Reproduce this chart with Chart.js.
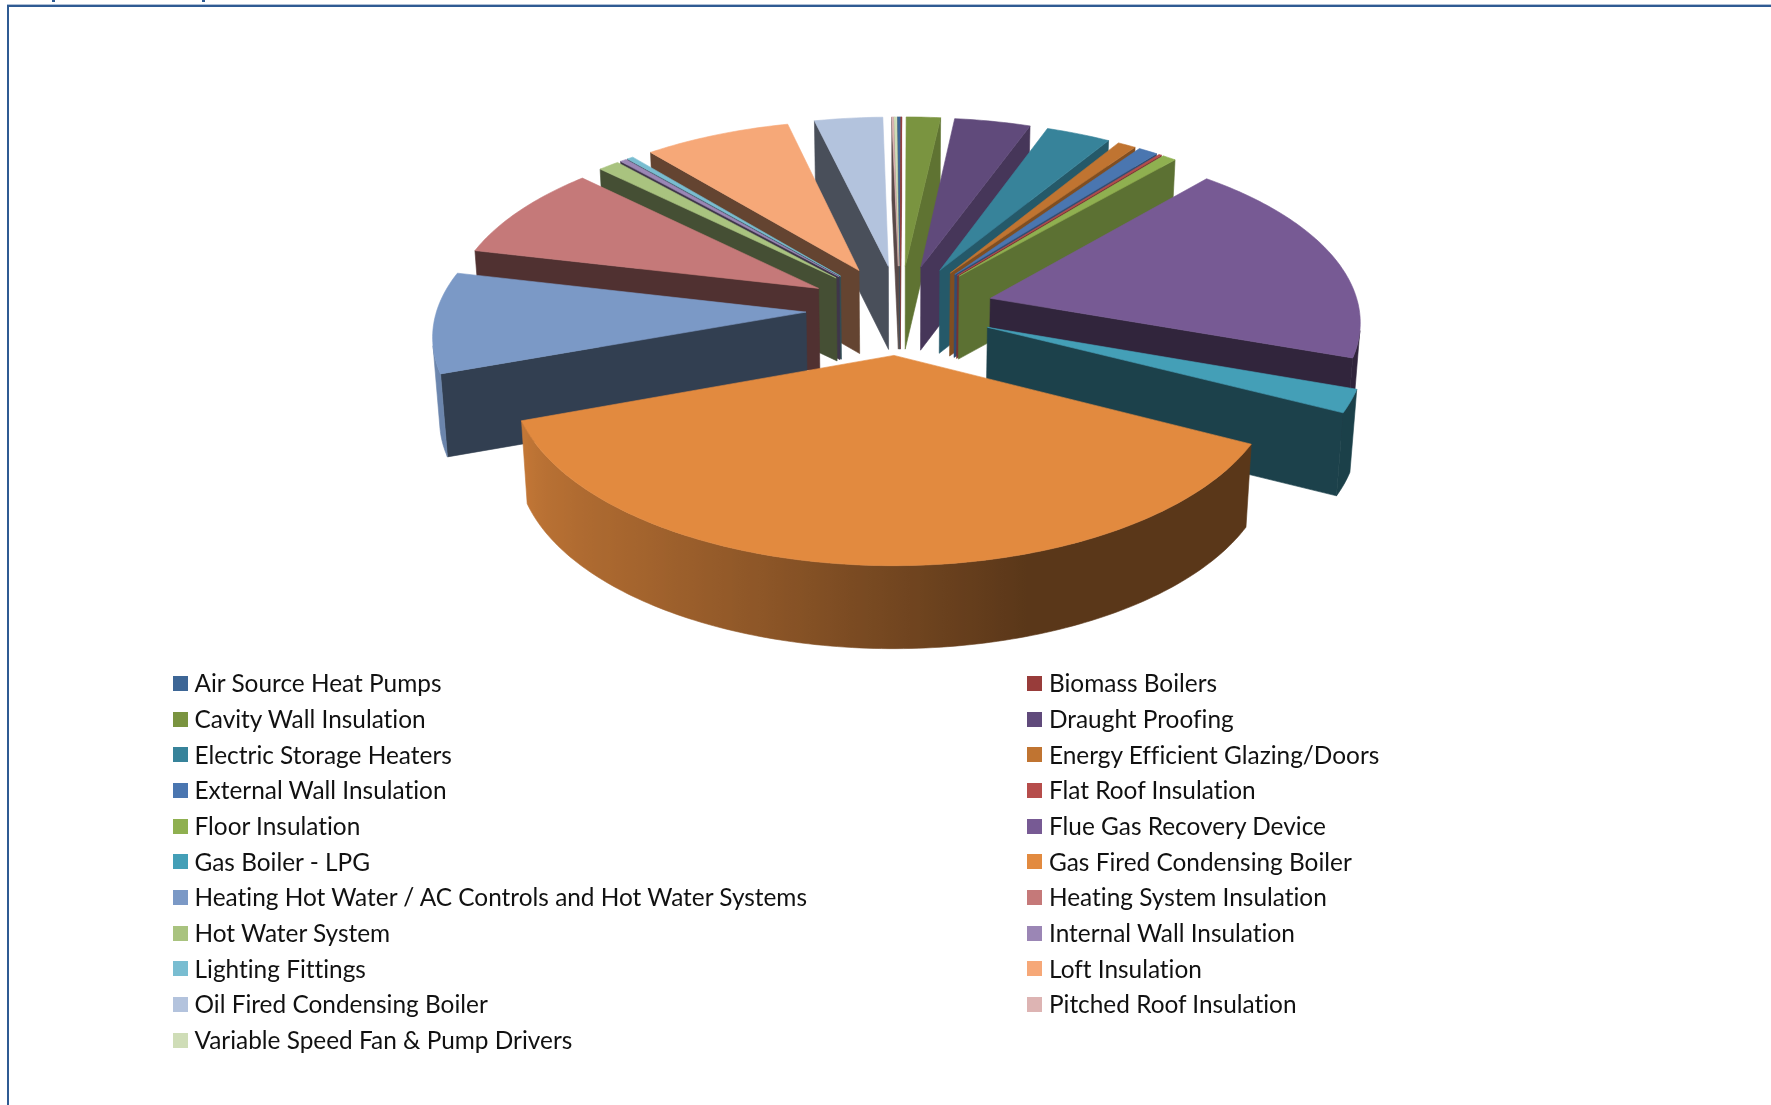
<!DOCTYPE html>
<html><head><meta charset="utf-8">
<style>
html,body{margin:0;padding:0;background:#fff;width:1771px;height:1105px;overflow:hidden}
#c{position:absolute;left:0;top:0}
#frameTop{position:absolute;left:7px;right:0;top:4.5px;height:2px;background:#2f5b93;box-shadow:0 -1px 0 #aebfd6}
#frameLeft{position:absolute;left:7px;top:5px;bottom:0;width:2px;background:#2f5b93}
.m{position:absolute;top:0;width:3px;height:2px;background:#2f5b93}
#legend div{position:absolute;font:24.4px Lato,sans-serif;font-variant-ligatures:none;color:#111;white-space:nowrap;line-height:30px;height:30px}
#legend i{position:absolute;left:-22px;top:7.5px;width:15px;height:15px}
</style></head><body>
<canvas id="c" width="1771" height="1105"></canvas>
<div id="frameTop"></div><div id="frameLeft"></div>
<div class="m" style="left:52px"></div><div class="m" style="left:202px"></div>
<div id="legend"></div>
<script src="https://cdn.jsdelivr.net/npm/chart.js@4"></script>
<script>
const categories = ["Air Source Heat Pumps","Biomass Boilers","Cavity Wall Insulation","Draught Proofing","Electric Storage Heaters","Energy Efficient Glazing/Doors","External Wall Insulation","Flat Roof Insulation","Floor Insulation","Flue Gas Recovery Device","Gas Boiler - LPG","Gas Fired Condensing Boiler","Heating Hot Water / AC Controls and Hot Water Systems","Heating System Insulation","Hot Water System","Internal Wall Insulation","Lighting Fittings","Loft Insulation","Oil Fired Condensing Boiler","Pitched Roof Insulation","Variable Speed Fan & Pump Drivers"];
const shareValues = [0.14,0.04,1.70,3.78,3.22,0.92,0.97,0.14,0.69,18.90,2.08,37.03,9.13,8.63,1.06,0.33,0.31,7.30,3.39,0.08,0.14];
const sliceColors = ["#3d6696","#983c3a","#7a9440","#604a7b","#37839a","#c07431","#4a76b0","#b64d4b","#8fb050","#775a94","#449fb7","#e28a3f","#7b99c6","#c57979","#a9c37f","#9b86b5","#79bdd1","#f6a878","#b3c3dd","#ddb4b3","#cfddb7"];

const view = {k:0.475, p:0.14, reach:457, depth:83, shrink:0.985};

function rgb(hex){return [1,3,5].map(i=>parseInt(hex.substr(i,2),16));}
function shade(hex,f){const c=rgb(hex);return `rgb(${c.map(v=>Math.round(v*f)).join(',')})`;}
function lerpTable(t,d){
  if(d<=t[0][0])return t[0][1];
  for(let i=1;i<t.length;i++){if(d<=t[i][0]){const a=t[i-1],b=t[i];return a[1]+(b[1]-a[1])*(d-a[0])/(b[0]-a[0]);}}
  return t[t.length-1][1];
}
const cutLight=[[90,0.8],[135,0.63],[160,0.41],[360,0.40]];
const rimLight=[[162,0.40],[180,0.51],[197,0.62],[216,0.72],[243,0.83],[250,0.87],[300,0.92]];

const perspectivePie={
  id:'perspectivePie',
  beforeDatasetDraw(chart,args){
    const ctx=chart.ctx,arcs=chart.getDatasetMeta(args.index).data;
    const cx=arcs[0].x,cy=arcs[0].y;
    const top=(x,y)=>{const dy=y-cy,s=1/(1-view.p*dy/view.reach);return [cx+(x-cx)*s,cy+view.k*dy*s];};
    const low=P=>[cx+(P[0]-cx)*view.shrink,P[1]+view.depth];
    const fill=(pts,col)=>{ctx.beginPath();pts.forEach((q,i)=>i?ctx.lineTo(q[0],q[1]):ctx.moveTo(q[0],q[1]));ctx.closePath();ctx.fillStyle=col;ctx.fill();ctx.strokeStyle=col;ctx.lineWidth=0.6;ctx.stroke();};
    const area=pts=>pts.reduce((s,q,i)=>{const n=pts[(i+1)%pts.length];return s+q[0]*n[1]-n[0]*q[1];},0);
    const dir=a=>((a*180/Math.PI+90)%360+360)%360;
    const items=arcs.map((el,i)=>{
      const mid=(el.startAngle+el.endAngle)/2,off=el.options.offset||0;
      const ox=cx+Math.cos(mid)*off,oy=cy+Math.sin(mid)*off;
      const r=el.outerRadius,n=Math.max(2,Math.ceil((el.endAngle-el.startAngle)*180/Math.PI));
      const rim=[];
      for(let j=0;j<=n;j++){const a=el.startAngle+(el.endAngle-el.startAngle)*j/n;rim.push({a,P:top(ox+r*Math.cos(a),oy+r*Math.sin(a))});}
      return {i,el,oy,apex:top(ox,oy),rim,color:sliceColors[i]};
    }).sort((a,b)=>a.oy-b.oy);
    for(const it of items){
      const {apex,rim,color,el}=it;
      const s0=rim[0].P,e0=rim[rim.length-1].P;
      const quad=(p,q)=>[p,q,low(q),low(p)];
      const startQ=quad(apex,s0),endQ=quad(e0,apex);
      if(area(startQ)<0)fill(startQ,shade(color,lerpTable(cutLight,(dir(el.startAngle)-90+360)%360)));
      if(area(endQ)<0)fill(endQ,shade(color,lerpTable(cutLight,(dir(el.endAngle)+90)%360)));
      // outer wall: one smooth band per visible run of the rim
      let run=[];
      const flush=()=>{
        if(run.length<2){run=[];return;}
        const x0=run[0].P[0],x1=run[run.length-1].P[0];
        const g=ctx.createLinearGradient(x0,0,x1===x0?x0+1:x1,0);
        run.forEach(o=>{g.addColorStop(Math.min(1,Math.max(0,(o.P[0]-x0)/((x1-x0)||1))),shade(color,lerpTable(rimLight,dir(o.a))));});
        const upper=run.map(o=>o.P),lower=run.map(o=>low(o.P)).reverse();
        ctx.beginPath();[...upper,...lower].forEach((q,i)=>i?ctx.lineTo(q[0],q[1]):ctx.moveTo(q[0],q[1]));ctx.closePath();
        ctx.fillStyle=g;ctx.fill();ctx.strokeStyle=g;ctx.lineWidth=0.6;ctx.stroke();
        run=[];
      };
      for(let j=0;j<rim.length-1;j++){
        const q=quad(rim[j].P,rim[j+1].P);
        if(area(q)<0){if(!run.length)run.push(rim[j]);run.push(rim[j+1]);}else flush();
      }
      flush();
      fill([apex,...rim.map(o=>o.P)],color);
    }
    return false;
  }
};

new Chart(document.getElementById('c'),{
  type:'pie',
  data:{labels:categories,datasets:[{data:shareValues,backgroundColor:sliceColors,borderWidth:0,offset:94}]},
  options:{
    responsive:false,animation:false,devicePixelRatio:1,radius:369,rotation:-0.4,
    layout:{padding:{left:29,bottom:486}},
    plugins:{legend:{display:false},tooltip:{enabled:false},title:{display:false}}
  },
  plugins:[perspectivePie]
});

const legend=document.getElementById('legend');
categories.forEach((name,i)=>{
  const d=document.createElement('div');
  d.style.left=(i%2?1049:194.5)+'px';
  d.style.top=(683.4-15+35.67*Math.floor(i/2))+'px';
  const sw=document.createElement('i');sw.style.background=sliceColors[i];
  d.appendChild(sw);d.appendChild(document.createTextNode(name));
  legend.appendChild(d);
});
</script>
</body></html>
